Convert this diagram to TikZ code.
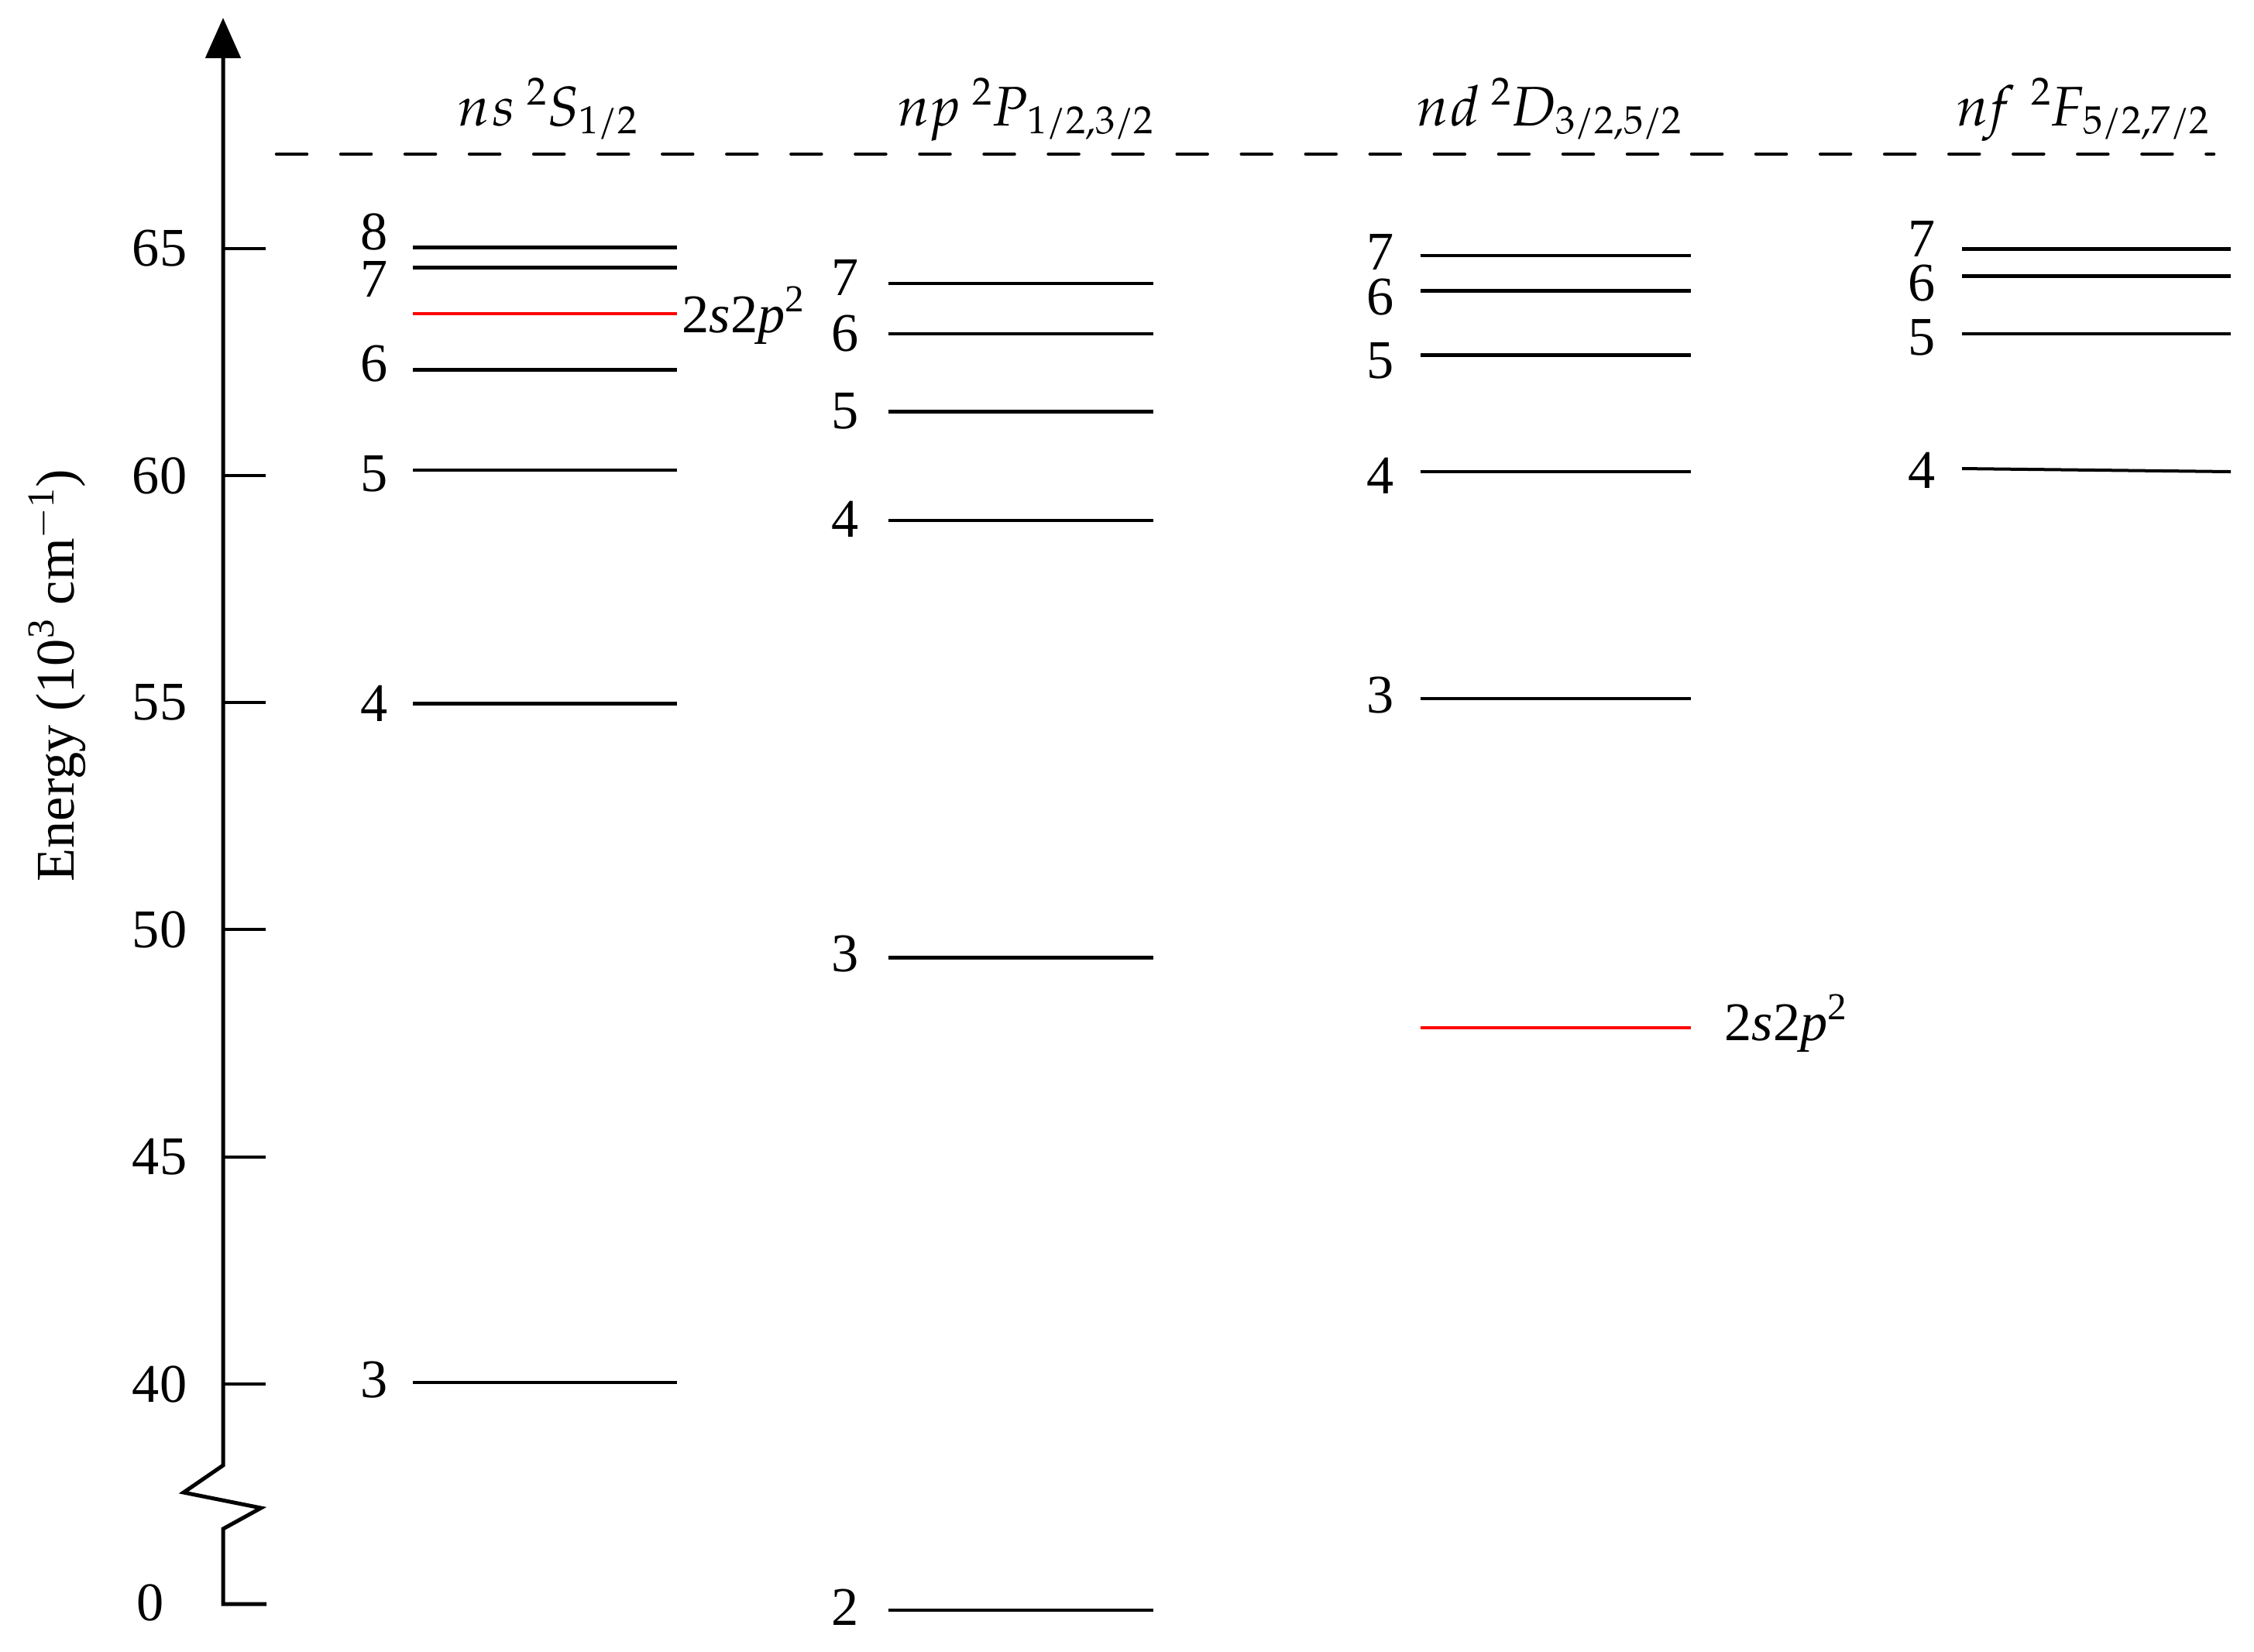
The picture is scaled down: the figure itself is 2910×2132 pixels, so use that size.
\documentclass[tikz,border=0pt]{standalone}
\usepackage{fontspec}
\setmainfont{Liberation Serif}
\newfontfamily\pala{TeX Gyre Pagella}
\usetikzlibrary{arrows.meta}
\newcommand{\hl}[1]{\textit{#1}}
\begin{document}
\begin{tikzpicture}[x=0.01cm,y=-0.01cm,
  lvl/.style={line width=0.04cm},
  lvlb/.style={line width=0.05cm},
  redlvl/.style={line width=0.035cm, red},
  lab/.style={font=\fontsize{20}{24}\selectfont, inner sep=0pt},
  hdr/.style={font=\pala\fontsize{20.5}{24}\selectfont, inner sep=0pt, anchor=base},
  tickmark/.style={line width=0.045cm},
  axisline/.style={line width=0.05cm, line join=miter}]
\useasboundingbox (0,0) rectangle (2910,2132);
\fill[white] (0,0) rectangle (2910,2132);

% axis with break
\coordinate (ax0) at (344,2071);
\coordinate (axtop) at (288,23);
\draw[axisline, -{Triangle[length=0.52cm,width=0.45cm]}]
  (ax0) -- (288,2071) -- (288,1974) -- (337,1947) -- (237,1927) -- (288,1892) -- (axtop);

% ticks
\foreach \v/\y in {65/321,60/614,55/907,50/1200,45/1494,40/1787}{
  \draw[tickmark] (288,\y) -- (343,\y);
  \node[lab, anchor=east] (t\v) at (242,\y) {\v};
}
\node[lab, anchor=west] (t0) at (176,2069) {0};

% axis label
\node[lab, rotate=90] (elab) at (74,872) {Energy (10\textsuperscript{3} cm\textsuperscript{$-$1})};

% ionization limit
\draw[line width=0.045cm, line cap=round, dash pattern=on 0.39cm off 0.44cm] (357,199) -- (2858,199);

% headers
\node[hdr] (hs) at (708,162) {\hl{n\kern0.06em s}\hspace{0.22em}\textsuperscript{2}\hl{S}\textsubscript{1/2}};
\node[hdr] (hp) at (1325,162) {\hl{n\kern0.06em p}\hspace{0.22em}\textsuperscript{2}\hl{P}\textsubscript{1/2,3/2}};
\node[hdr] (hd) at (2001,162) {\hl{n\kern0.06em d}\hspace{0.22em}\textsuperscript{2}\hl{D}\textsubscript{3/2,5/2}};
\node[hdr] (hf) at (2690,162) {\hl{n\kern0.06em f}\hspace{0.3em}\textsuperscript{2}\hl{F}\textsubscript{5/2,7/2}};

% ns levels
\foreach \n/\y/\ly/\st in {8/319/299/lvlb,7/345/360/lvlb,6/477/470/lvlb,5/607/612/lvl,4/908/908/lvlb,3/1785/1782/lvl}{
  \draw[\st] (533,\y) -- (874,\y);
  \node[lab] (s\n) at (483,\ly) {\n};
}
\draw[redlvl] (533,405) -- (874,405);
\node[lab, anchor=west] (sred) at (880,407) {2\textit{s}2\textit{p}\textsuperscript{2}};

% np levels
\foreach \n/\y/\ly/\st in {7/366/358/lvl,6/431/431/lvl,5/531/531/lvlb,4/672/670/lvl,3/1236/1232/lvlb,2/2079/2075/lvl}{
  \draw[\st] (1147,\y) -- (1489,\y);
  \node[lab] (p\n) at (1091,\ly) {\n};
}

% nd levels
\foreach \n/\y/\ly/\st in {7/330/325/lvl,6/375/384/lvlb,5/458/466/lvlb,4/609/614/lvl,3/902/898/lvl}{
  \draw[\st] (1834,\y) -- (2183,\y);
  \node[lab] (d\n) at (1782,\ly) {\n};
}
\draw[redlvl] (1834,1327) -- (2183,1327);
\node[lab, anchor=west] (dred) at (2226,1321) {2\textit{s}2\textit{p}\textsuperscript{2}};

% nf levels
\foreach \n/\y/\ly/\st in {7/321/308/lvlb,6/356/366/lvlb,5/431/436/lvl}{
  \draw[\st] (2533,\y) -- (2880,\y);
  \node[lab] (f\n) at (2481,\ly) {\n};
}
\draw[lvl] (2533,605) -- (2880,609);
\node[lab] (f4) at (2481,607) {4};
\end{tikzpicture}
\end{document}
